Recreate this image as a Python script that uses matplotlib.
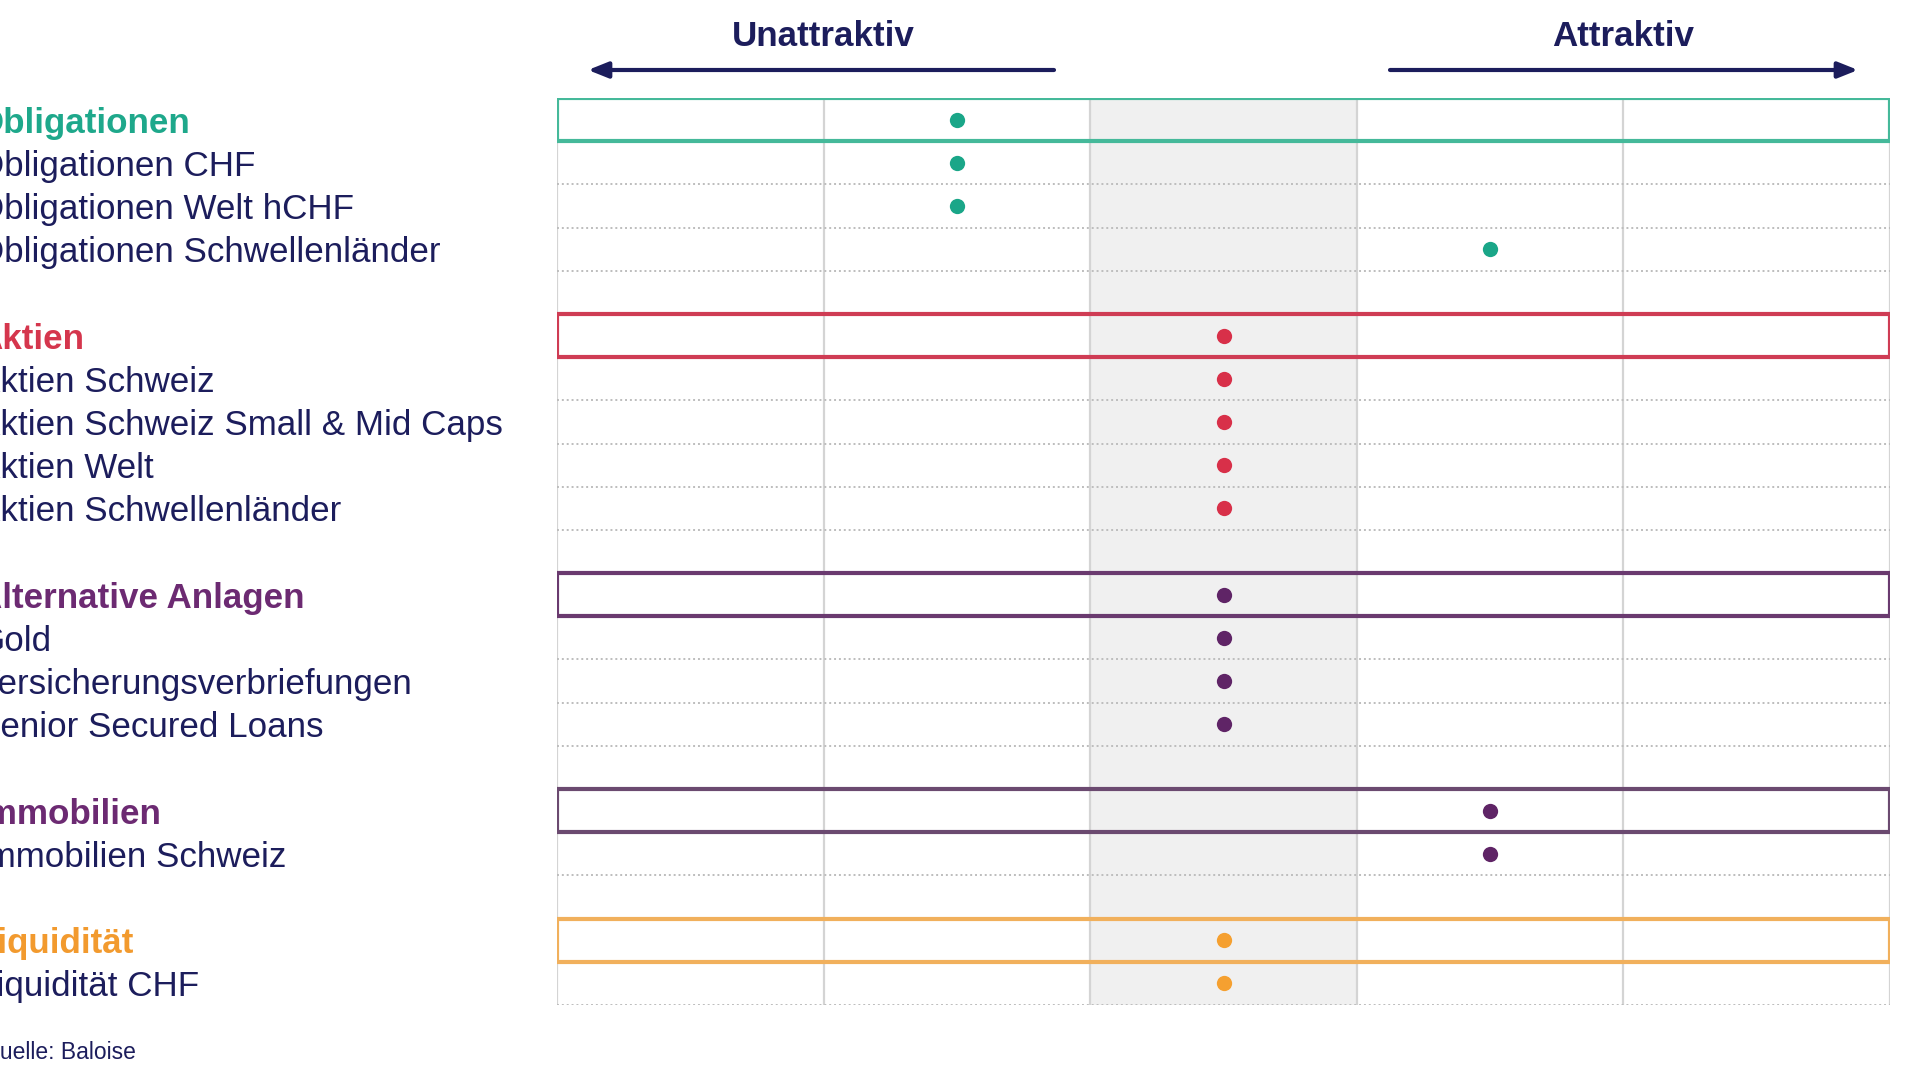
import matplotlib.pyplot as plt
import matplotlib.transforms as mtransforms
from matplotlib.patches import Rectangle, FancyArrowPatch

plt.rcParams['font.family'] = ['Liberation Sans', 'DejaVu Sans']

# Daten
columns = [1, 2, 3, 4, 5]          # 1 = unattraktiv ... 5 = attraktiv
groups = ['Obligationen', 'Aktien', 'Alternative Anlagen', 'Immobilien', 'Liquidität']
group_scores = [2, 3, 3, 4, 3]
group_items = [
    ['Obligationen CHF', 'Obligationen Welt hCHF', 'Obligationen Schwellenländer'],
    ['Aktien Schweiz', 'Aktien Schweiz Small & Mid Caps', 'Aktien Welt', 'Aktien Schwellenländer'],
    ['Gold', 'Versicherungsverbriefungen', 'Senior Secured Loans'],
    ['Immobilien Schweiz'],
    ['Liquidität CHF'],
]
item_scores = [[2, 2, 4], [3, 3, 3, 3], [3, 3, 3], [4], [3]]
group_colors = ['#1ea88b', '#d5364d', '#6c2a72', '#6c2a72', '#f29a2e']
box_colors = ['#45b99a', '#cf3c54', '#6a3a6f', '#6b4a70', '#f1b05c']
dot_colors = ['#1aa688', '#d83049', '#5f2466', '#5f2466', '#f5a030']
header_left = 'Unattraktiv'
header_right = 'Attraktiv'
source = 'Quelle: Baloise'

navy = '#1c1d5c'
W, H = 1921, 1080

fig = plt.figure(figsize=(W / 100, H / 100), dpi=100)
# Rasterbereich in Pixeln: links 557, rechts 1890, oben 98, unten 1005
ax = fig.add_axes([557 / W, 1 - 1005 / H, (1890 - 557) / W, (1005 - 98) / H])

# Zeilen aufbauen (Leerzeile nach jeder Gruppe ausser der letzten)
rows = []
for g, name in enumerate(groups):
    rows.append((name, group_scores[g], g, True))
    for lab, sc in zip(group_items[g], item_scores[g]):
        rows.append((lab, sc, g, False))
    if g < len(groups) - 1:
        rows.append(('', None, g, False))
n = len(rows)

ax.set_xlim(0.5, 5.5)
ax.set_ylim(n, 0)
ax.axis('off')

# mittlere Spalte grau hinterlegt
ax.axvspan(2.5, 3.5, color='#f0f0f0', zorder=0, lw=0)
for x in [c - 0.5 for c in columns] + [columns[-1] + 0.5]:
    ax.vlines(x, 0, n, color='#d4d4d4', lw=1.6, zorder=1)

box_edges = set()
for i, (lab, sc, g, head) in enumerate(rows):
    if head:
        box_edges.update([i, i + 1])
for b in range(1, n + 1):
    if b not in box_edges:
        ax.hlines(b, 0.5, 5.5, color='#bdbdbd', lw=1.4, linestyle=(0, (1, 1.5)), zorder=1)

lab_tr = mtransforms.blended_transform_factory(fig.transFigure, ax.transData)
for i, (lab, sc, g, head) in enumerate(rows):
    yc = i + 0.5
    if head:
        ax.add_patch(Rectangle((0.5, i), 5, 1, fill=False, edgecolor=box_colors[g],
                               lw=3, zorder=3, joinstyle='round'))
    if lab:
        ax.text(-23 / W, yc, lab, transform=lab_tr, fontsize=25.2,
                fontweight='bold' if head else 'normal',
                color=group_colors[g] if head else navy,
                ha='left', va='center_baseline', clip_on=False)
    if sc is not None:
        ax.plot(sc, yc, 'o', ms=11, color=dot_colors[g], mec='none', zorder=4)

# Kopfzeile mit Pfeilen
fig.text(823 / W, 1 - 33 / H, header_left, fontsize=25.2, fontweight='bold',
         color=navy, ha='center', va='center_baseline')
fig.text(1623 / W, 1 - 33 / H, header_right, fontsize=25.2, fontweight='bold',
         color=navy, ha='center', va='center_baseline')
ay = 1 - 70 / H
arrow = dict(arrowstyle='-|>,head_length=0.75,head_width=0.3', color=navy, lw=3,
             mutation_scale=16, shrinkA=0, shrinkB=0)
fig.add_artist(FancyArrowPatch((1054 / W, ay), (588 / W, ay),
                               transform=fig.transFigure, **arrow))
fig.add_artist(FancyArrowPatch((1390 / W, ay), (1858 / W, ay),
                               transform=fig.transFigure, **arrow))

fig.text(-18 / W, 1 - 1050 / H, source, fontsize=16.5, color=navy,
         ha='left', va='center_baseline')

fig.savefig('out.png', dpi=100, facecolor='white')
